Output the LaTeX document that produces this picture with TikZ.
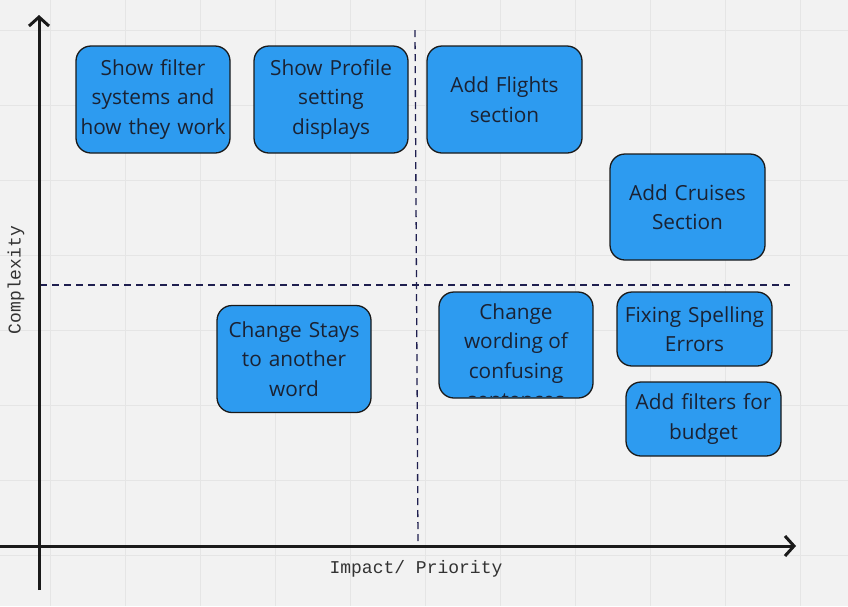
\documentclass[tikz,border=0pt]{standalone}
\usepackage{fontspec}
\usetikzlibrary{arrows.meta}
\newfontfamily\boxfont{Open Sans}
\newfontfamily\axisfont{Liberation Mono}
\definecolor{bg}{HTML}{F2F2F2}
\definecolor{gridline}{HTML}{E5E5E5}
\definecolor{ideablue}{HTML}{2D9BF0}
\definecolor{inktext}{HTML}{1A2233}
\definecolor{dashnavy}{HTML}{1F1F4F}
\definecolor{axisblack}{HTML}{1A1A1A}

\begin{document}
\begin{tikzpicture}[x=1pt, y=-1pt]
  \tikzstyle{idea} = [draw=axisblack, line width=1.3pt, fill=ideablue,
  rounded corners=15pt, minimum width=154pt, minimum height=107pt,
  inner sep=0pt, text width=152pt, align=center, text=inktext,
  font=\boxfont\fontsize{20.8}{29.5}\selectfont]
  \tikzstyle{quadrant} = [draw=dashnavy, line width=1.3pt, dash pattern=on 7pt off 5pt]
  \tikzstyle{axis} = [draw=axisblack, line width=3pt, -{Straight Barb[length=9pt, width=20pt]}]
  \tikzstyle{axislabel} = [text=black!80, inner sep=0pt, font=\axisfont\fontsize{18}{20}\selectfont]

  % Background and grid
  \fill[bg] (0,0) rectangle (848,606);
  \useasboundingbox (0,0) rectangle (848,606);
  \foreach \gx in {50,125,...,800} \draw[gridline, line width=1pt] (\gx,0) -- (\gx,606);
  \foreach \gy in {30,105,...,555} \draw[gridline, line width=1pt] (0,\gy) -- (848,\gy);

  % Quadrant lines
  \coordinate (hleft) at (40,285);
  \coordinate (hright) at (790,285);
  \coordinate (vtop) at (415,30);
  \coordinate (vbottom) at (418,541);
  \path [quadrant] (hleft) -- (hright);
  \path [quadrant] (vtop) -- (vbottom);

  % Axes
  \coordinate (ybottom) at (39,590);
  \coordinate (ytop) at (39,15);
  \coordinate (xleft) at (0,546);
  \coordinate (xright) at (796,546);
  \path [axis] (ybottom) -- (ytop);
  \path [axis] (xleft) -- (xright);
  \node[axislabel] (impact) at (416,569) {Impact/ Priority};
  \node[axislabel, rotate=90] (complexity) at (16,280) {Complexity};

  % Define nodes
  \node[idea] (filter) at (153,99.5) {Show filter\\systems and\\how they work};
  \node[idea] (profile) at (331,99.5) {Show Profile\\setting\\displays};
  \node[idea, minimum width=155pt] (flights) at (504.5,99.5) {Add Flights\\section};
  \node[idea, minimum width=155pt, minimum height=106pt] (cruises) at (687.5,207) {Add Cruises\\Section};
  \node[idea] (stays) at (294,359) {Change Stays\\to another\\word};
  \node[idea, minimum height=106pt] (wording) at (516,345) {};
  \begin{scope}
    \clip[rounded corners=14pt] ([shift={(1pt,2pt)}]wording.south west)
      rectangle ([shift={(-1pt,-1pt)}]wording.north east);
    \node[anchor=north, inner sep=0pt, align=center, text=inktext,
      font=\boxfont\fontsize{20.8}{29.5}\selectfont] (wordingtext)
      at ([yshift=-12pt]wording.north) {Change\\wording of\\confusing\\sentences};
  \end{scope}
  \node[idea, minimum width=155pt, minimum height=74pt] (spelling) at (694.5,329) {Fixing Spelling\\Errors};
  \node[idea, minimum width=155pt, minimum height=74pt] (budget) at (703.5,419) {Add filters for\\budget};
\end{tikzpicture}
\end{document}
